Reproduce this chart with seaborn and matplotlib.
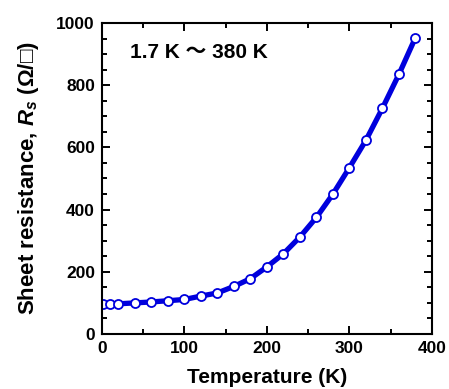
import numpy as np
import pandas as pd
import matplotlib
matplotlib.use("Agg")
import matplotlib.pyplot as plt
import seaborn as sns
from matplotlib.ticker import MultipleLocator

# data
temperature = [1.7, 10, 20, 40, 60, 80, 100, 120, 140, 160, 180, 200,
               220, 240, 260, 280, 300, 320, 340, 360, 380]
resistance = [96, 97, 97, 100, 103, 107, 111, 122, 132, 153, 178, 216,
              258, 312, 375, 450, 535, 623, 726, 835, 953]

x_ticks = [0, 100, 200, 300, 400]
y_ticks = [0, 200, 400, 600, 800, 1000]

sns.set_theme(style="ticks")
plt.rcParams["font.family"] = ["Liberation Sans", "DejaVu Sans", "Noto Sans CJK JP"]
plt.rcParams["font.weight"] = "bold"
plt.rcParams["text.color"] = "black"
plt.rcParams["axes.labelcolor"] = "black"
plt.rcParams["mathtext.fontset"] = "custom"
plt.rcParams["mathtext.rm"] = "Liberation Sans:bold"
plt.rcParams["mathtext.it"] = "Liberation Sans:italic:bold"
plt.rcParams["mathtext.bf"] = "Liberation Sans:bold"

df = pd.DataFrame({"T": temperature, "Rs": resistance})

fig = plt.figure(figsize=(4.49, 3.89), dpi=100)
ax = fig.add_axes([0.227, 0.1414, 0.735, 0.7995])

sns.lineplot(data=df, x="T", y="Rs", ax=ax, color="#0000dd", linewidth=3.8,
             marker="o", markersize=6.5, markerfacecolor="white",
             markeredgecolor="#0000dd", markeredgewidth=1.3)

ax.set_xlim(0, 400)
ax.set_ylim(0, 1000)
ax.set_xticks(x_ticks)
ax.set_yticks(y_ticks)
ax.xaxis.set_minor_locator(MultipleLocator(50))
ax.yaxis.set_minor_locator(MultipleLocator(50))
ax.tick_params(which="both", direction="in", top=True, right=True,
               width=1.4, labelsize=12.5, colors="black", pad=5)
ax.tick_params(which="major", length=5.5)
ax.tick_params(which="minor", length=3.5)
for lbl in ax.get_xticklabels() + ax.get_yticklabels():
    lbl.set_fontweight("bold")
for sp in ax.spines.values():
    sp.set_linewidth(1.5)
    sp.set_color("black")

ax.set_xlabel("Temperature (K)", fontsize=15, fontweight="bold", labelpad=9)
ax.set_ylabel(r"Sheet resistance, $R_s$ (Ω/□)", fontsize=16,
              fontweight="bold", labelpad=11)

ax.text(0.085, 0.905, "1.7 K ～ 380 K", transform=ax.transAxes,
        fontsize=15, fontweight="bold", va="center", ha="left")

fig.savefig("out.png", dpi=100)
